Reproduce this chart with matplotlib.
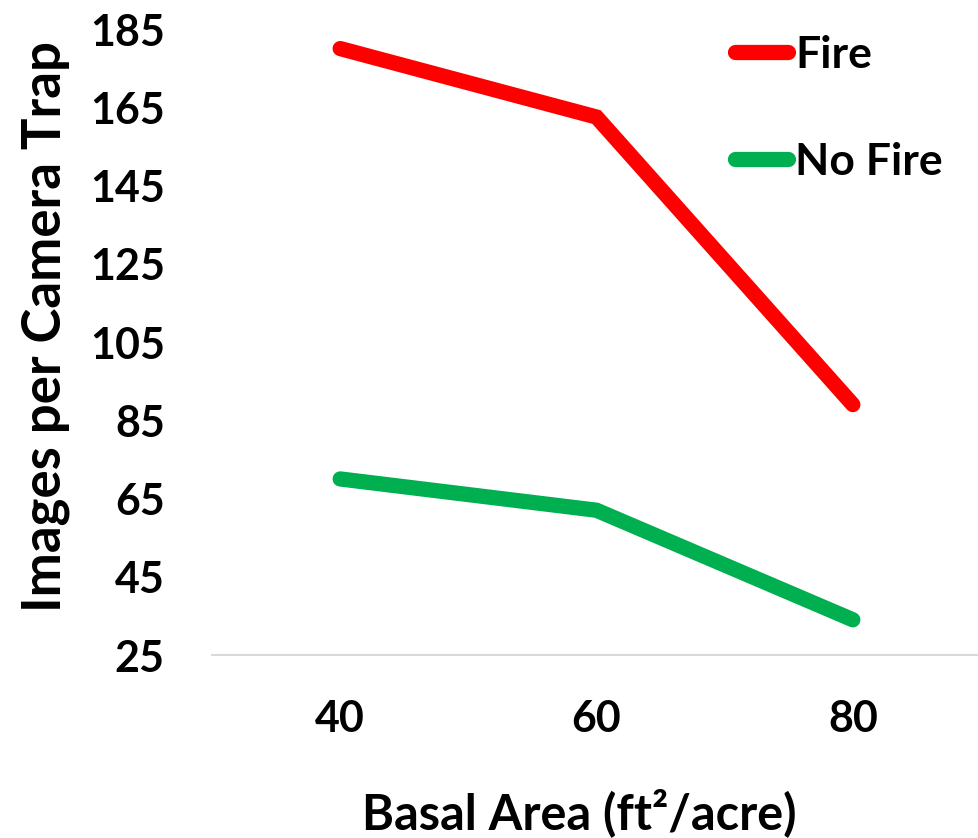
import matplotlib.pyplot as plt

plt.rcParams['font.family'] = ['Lato', 'DejaVu Sans']
plt.rcParams['font.weight'] = 'bold'

# Datos
basal_area = ["40", "60", "80"]
fire = [180, 162.5, 89]
no_fire = [70, 62, 34]
y_ticks = [25, 45, 65, 85, 105, 125, 145, 165, 185]

fig = plt.figure(figsize=(9.79, 8.38), dpi=100)
ax = fig.add_axes([212/979, 1 - 655/838, 769/979, 626/838])

x = range(len(basal_area))
ax.plot(x, fire, color="#ff0000", lw=11, solid_capstyle="round",
        solid_joinstyle="miter", label="Fire")
ax.plot(x, no_fire, color="#00b050", lw=11, solid_capstyle="round",
        solid_joinstyle="miter", label="No Fire")

ax.set_xlim(-0.5, 2.5)
ax.set_ylim(25, 185)
ax.set_xticks(list(x))
ax.set_xticklabels(basal_area)
ax.set_yticks(y_ticks)
ax.tick_params(axis="both", length=0, labelsize=31)
ax.tick_params(axis="y", pad=34)
ax.tick_params(axis="x", pad=32)

for s in ["top", "right", "left"]:
    ax.spines[s].set_visible(False)
ax.spines["bottom"].set_color("#d9d9d9")
ax.spines["bottom"].set_linewidth(1.5)

ax.set_ylabel("Images per Camera Trap", fontsize=38, fontweight="bold")
ax.yaxis.set_label_coords(-0.1847, 0.524)
ax.set_xlabel("Basal Area (ft²/acre)", fontsize=35, fontweight="bold")
ax.xaxis.set_label_coords(0.478, -0.2125)

leg = ax.legend(loc="upper left", bbox_to_anchor=(735/979, 1 - 35/838),
                bbox_transform=fig.transFigure, frameon=False, fontsize=32,
                handlelength=1.2, handletextpad=0.15, labelspacing=1.5,
                borderpad=0, borderaxespad=0)

fig.savefig("out.png", dpi=100)
